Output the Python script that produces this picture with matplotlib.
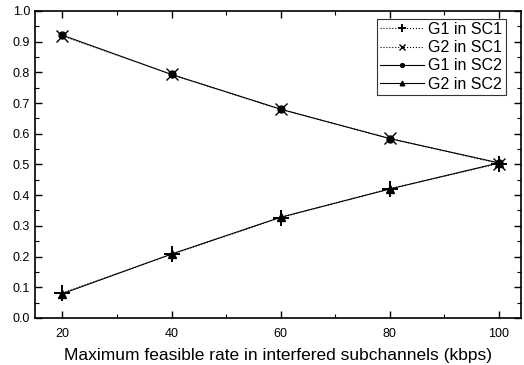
import matplotlib
matplotlib.use('Agg')
import matplotlib.pyplot as plt
import numpy as np
from matplotlib.ticker import MultipleLocator

# data
rate = [20, 40, 60, 80, 100]
g1_sc1 = [0.081, 0.207, 0.327, 0.421, 0.503]
g2_sc1 = [0.919, 0.793, 0.679, 0.585, 0.503]
g1_sc2 = [0.921, 0.793, 0.680, 0.584, 0.505]
g2_sc2 = [0.079, 0.208, 0.328, 0.420, 0.505]

plt.rcParams['font.family'] = ['Liberation Sans', 'DejaVu Sans']

fig = plt.figure(figsize=(5.24, 3.65), dpi=100)
ax = fig.add_axes([0.067, 0.129, 0.927, 0.841])

ax.plot(rate, g1_sc1, color='k', lw=0.8, ls=':', marker='+', ms=11, mew=1.4, label='G1 in SC1')
ax.plot(rate, g2_sc1, color='k', lw=0.8, ls=':', marker='x', ms=9, mew=1.0, label='G2 in SC1')
ax.plot(rate, g1_sc2, color='k', lw=0.8, ls='-', marker='o', ms=5, label='G1 in SC2')
ax.plot(rate, g2_sc2, color='k', lw=0.8, ls='-', marker='^', ms=6, label='G2 in SC2')

ax.set_xlim(15, 104)
ax.set_ylim(0, 1.0)
ax.set_xticks([20, 40, 60, 80, 100])
ax.set_yticks(np.arange(0, 1.01, 0.1))
ax.set_yticklabels(['0.0', '0.1', '0.2', '0.3', '0.4', '0.5', '0.6', '0.7', '0.8', '0.9', '1.0'])
ax.xaxis.set_minor_locator(MultipleLocator(10))
ax.yaxis.set_minor_locator(MultipleLocator(0.05))
ax.tick_params(which='both', direction='in', top=True, right=True, labelsize=9)
ax.tick_params(axis='x', which='major', pad=7)
ax.tick_params(which='major', length=5, width=1)
ax.tick_params(which='minor', length=3, width=0.8)
for s in ax.spines.values():
    s.set_linewidth(1.2)

ax.set_xlabel('Maximum feasible rate in interfered subchannels (kbps)', fontsize=12.5, labelpad=6)

leg = ax.legend(loc='upper right', fontsize=11.5, frameon=True, fancybox=False,
                edgecolor='k', handlelength=2.7, borderpad=0.2, labelspacing=0.2,
                handletextpad=0.3, markerscale=0.55, borderaxespad=0.2,
                bbox_to_anchor=(0.975, 0.985))
leg.get_frame().set_linewidth(0.8)

fig.savefig('out.png', dpi=100)
